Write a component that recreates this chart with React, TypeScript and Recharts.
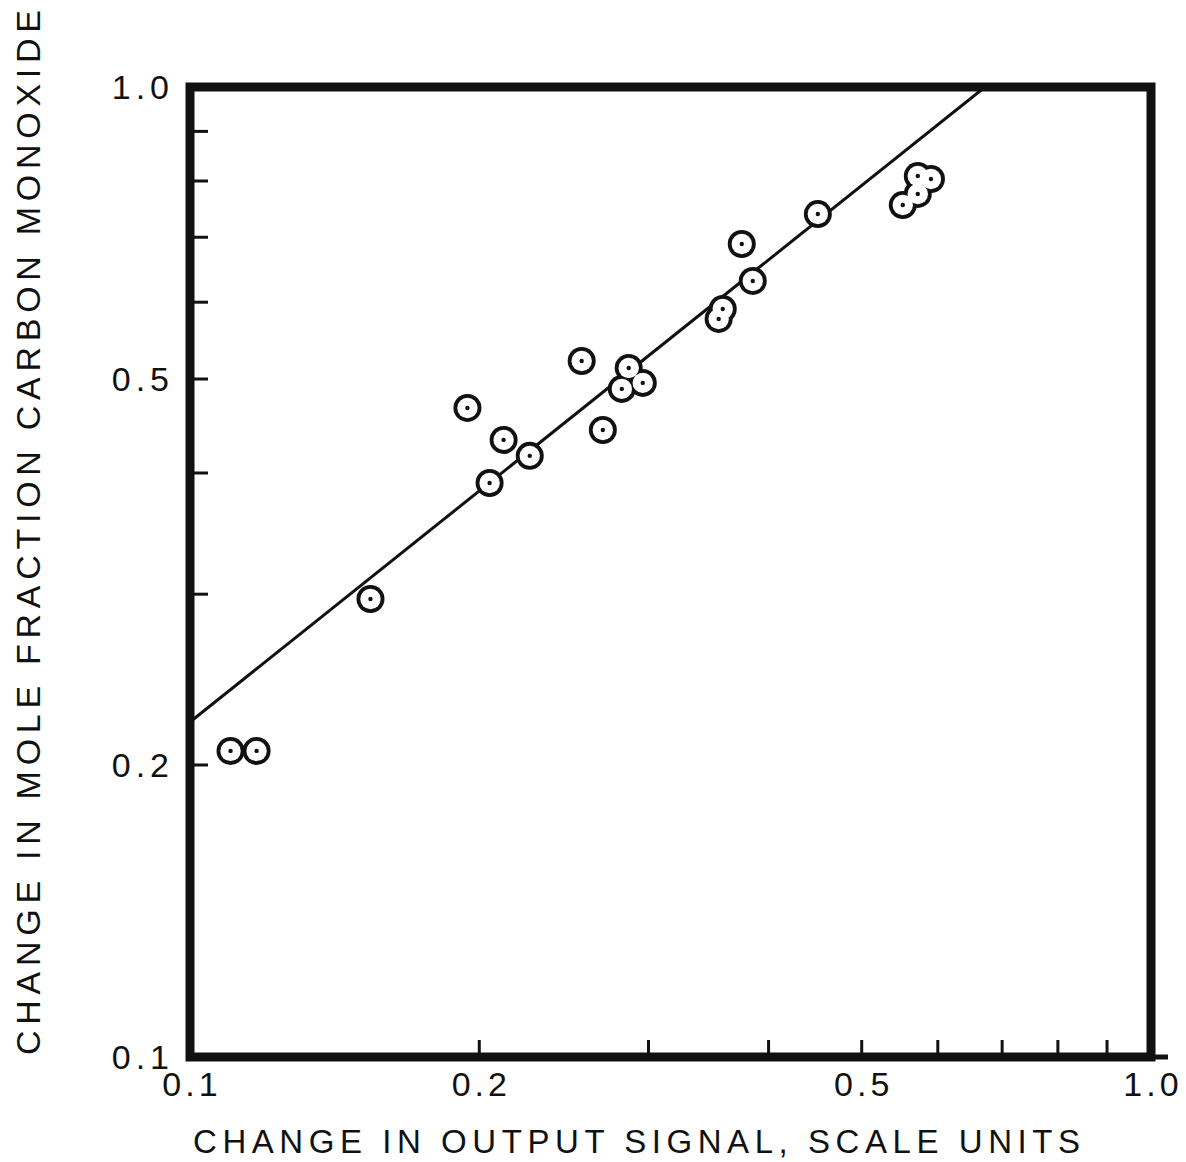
import React from "react";
import {
  ScatterChart, Scatter, XAxis, YAxis, ReferenceArea,
} from "recharts";

// measured points (change in output signal vs change in CO mole fraction)
const signalValues = [
  0.1102, 0.1173, 0.1541, 0.1944, 0.205, 0.212, 0.2257, 0.2556, 0.2689, 0.2861,
  0.2959, 0.2814, 0.3584, 0.3549, 0.3751, 0.3851, 0.4501, 0.5719, 0.5902, 0.5719, 0.5517,
];
const moleFractionValues = [
  0.2068, 0.2068, 0.2966, 0.4668, 0.3906, 0.4327, 0.4166, 0.5218, 0.443, 0.5132,
  0.4954, 0.4884, 0.5904, 0.5766, 0.6889, 0.631, 0.7396, 0.8095, 0.8038, 0.7758, 0.7556,
];

// fitted straight line on the log-log plot
const fitSignal = [0.1, 0.6718];
const fitMoleFraction = [0.2215, 1.0];

const xTicks = [0.1, 0.2, 0.3, 0.4, 0.5, 0.6, 0.7, 0.8, 0.9, 1.0];
const yTicks = [0.1, 0.2, 0.3, 0.4, 0.5, 0.6, 0.7, 0.8, 0.9, 1.0];
const xLabelled = ["0.1", "0.2", "0.5", "1.0"];
const yLabelled = ["0.1", "0.2", "0.5", "1.0"];

const points = signalValues.map((x, i) => ({ x, y: moleFractionValues[i] }));
const fitLine = fitSignal.map((x, i) => ({ x, y: fitMoleFraction[i] }));

const FONT = "'Liberation Sans', Arial, sans-serif";
const INK = "#111";

const XTick = ({ x, y, payload }: any) => {
  const v = payload.value;
  const label = v.toFixed(1);
  const edge = v === 0.1 || v === 1.0;
  return (
    <g>
      {!edge && <line x1={x} y1={y} x2={x} y2={y - 17} stroke={INK} strokeWidth={3} />}
      {v === 1.0 && <line x1={x} y1={y} x2={x + 17} y2={y} stroke={INK} strokeWidth={5} />}
      {xLabelled.includes(label) && (
        <text x={x + 2} y={y + 39} textAnchor="middle" fontSize={34} fontFamily={FONT}
          fill={INK} letterSpacing={4}>
          {label}
        </text>
      )}
    </g>
  );
};

// y ticks point into the plot, like the x ticks
const YTick = ({ x, y, payload }: any) => {
  const v = payload.value;
  const label = v.toFixed(1);
  const edge = v === 0.1 || v === 1.0;
  return (
    <g>
      {!edge && <line x1={x} y1={y} x2={x + 18} y2={y} stroke={INK} strokeWidth={3} />}
      {yLabelled.includes(label) && (
        <text x={x - 16} y={y + 12} textAnchor="end" fontSize={34} fontFamily={FONT}
          fill={INK} letterSpacing={5}>
          {label}
        </text>
      )}
    </g>
  );
};

// ring + white hole drawn as separate layers so touching circles merge like the drawing
const Ring = ({ cx, cy }: any) => <circle cx={cx} cy={cy} r={14} fill={INK} />;
const Hole = ({ cx, cy }: any) => <circle cx={cx} cy={cy} r={10.2} fill="#fff" />;
const Dot = ({ cx, cy }: any) => <circle cx={cx} cy={cy} r={2.2} fill={INK} />;
const NoShape = () => <g />;

export default function App() {
  return (
    <div style={{ position: "absolute", left: 0, top: 0, width: 1186, height: 1162, background: "#fff" }}>
      <ScatterChart width={1186} height={1162} margin={{ top: 87, right: 35, bottom: 0, left: 0 }}>
        <XAxis type="number" dataKey="x" scale="log" domain={[0.1, 1]} ticks={xTicks}
          allowDataOverflow height={105} axisLine={false} tickLine={false}
          tickSize={0} tickMargin={0} interval={0} tick={<XTick />} />
        <YAxis type="number" dataKey="y" scale="log" domain={[0.1, 1]} ticks={yTicks}
          allowDataOverflow width={190} axisLine={false} tickLine={false}
          tickSize={0} tickMargin={0} interval={0} tick={<YTick />} />
        <ReferenceArea x1={0.1} x2={1} y1={0.1} y2={1} fill="none" fillOpacity={0}
          stroke={INK} strokeWidth={9} ifOverflow="visible" />
        <Scatter data={fitLine} line={{ stroke: INK, strokeWidth: 3 }} shape={<NoShape />}
          isAnimationActive={false} />
        <Scatter data={points} shape={<Ring />} isAnimationActive={false} />
        <Scatter data={points} shape={<Hole />} isAnimationActive={false} />
        <Scatter data={points} shape={<Dot />} isAnimationActive={false} />
      </ScatterChart>
      <svg width={1186} height={1162} style={{ position: "absolute", left: 0, top: 0, pointerEvents: "none" }}>
        <text x={193} y={1153} fontSize={33} fontFamily={FONT} fill={INK}
          textLength={887} lengthAdjust="spacing">
          CHANGE IN OUTPUT SIGNAL, SCALE UNITS
        </text>
        <text x={40} y={1055} fontSize={34} fontFamily={FONT} fill={INK}
          textLength={1045} lengthAdjust="spacing" transform="rotate(-90 40 1055)">
          CHANGE IN MOLE FRACTION CARBON MONOXIDE
        </text>
      </svg>
    </div>
  );
}
